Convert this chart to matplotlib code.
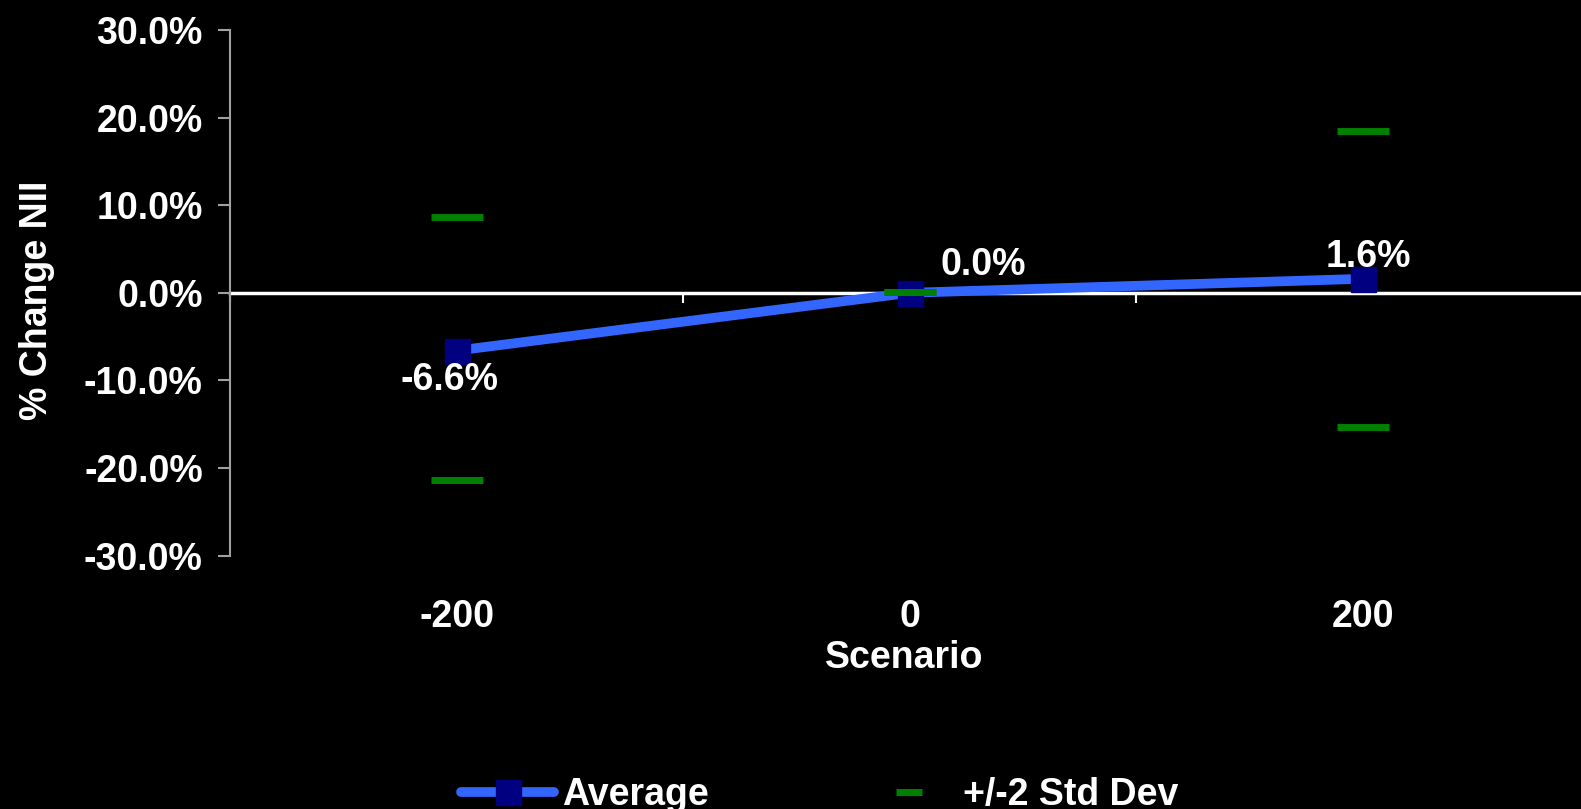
import matplotlib
matplotlib.use("Agg")
import matplotlib.pyplot as plt
from matplotlib.lines import Line2D
import numpy as np

# Chart data (percent change in net interest income by rate scenario)
scenarios = ["-200", "0", "200"]
average = [-6.6, 0.0, 1.6]
upper_2sd = [8.7, 0.1, 18.5]
lower_2sd = [-21.4, 0.1, -15.3]
y_ticks = [-30, -20, -10, 0, 10, 20, 30]

plt.rcParams["font.family"] = ["Liberation Sans", "DejaVu Sans"]
plt.rcParams["font.weight"] = "bold"

BLUE = "#3366FF"
NAVY = "#000080"
GREEN = "#008000"
AXIS_GREY = "#A0A0A0"
FS = 27

W, H, DPI = 1581, 809, 100
fig = plt.figure(figsize=(W / DPI, H / DPI), dpi=DPI, facecolor="black")
ax = fig.add_axes([230 / W, 1 - 555.6 / H, 1359.5 / W, 525.6 / H])
ax.set_facecolor("black")

x = np.arange(len(scenarios))
ax.set_xlim(-0.5, len(scenarios) - 0.5)
ax.set_ylim(y_ticks[0], y_ticks[-1])

# Axes styling
for side in ("top", "right"):
    ax.spines[side].set_visible(False)
ax.spines["left"].set_color(AXIS_GREY)
ax.spines["left"].set_linewidth(1.5)
ax.spines["bottom"].set_position(("data", 0))
ax.spines["bottom"].set_color("white")
ax.spines["bottom"].set_linewidth(2.5)
ax.spines["bottom"].set_zorder(1)

ax.set_yticks(y_ticks)
ax.set_yticklabels([f"{v:.1f}%" for v in y_ticks])
ax.tick_params(axis="y", direction="out", length=8.6, width=1.5, color=AXIS_GREY,
               pad=11, labelcolor="white", labelsize=FS)

# Tick marks sit between categories on the zero line
ax.set_xticks(np.arange(len(scenarios) + 1) - 0.5)
ax.set_xticklabels([])
ax.tick_params(axis="x", direction="out", length=7.5, width=1.5, color="white")

# Category labels placed below the plot area
for xi, lab in zip(x, scenarios):
    ax.annotate(lab, xy=(xi, 0), xycoords=("data", "axes fraction"),
                xytext=(0, -44), textcoords="offset points",
                ha="center", va="center", color="white", fontsize=FS,
                annotation_clip=False)
ax.annotate("Scenario", xy=(0.5, 0), xycoords="axes fraction",
            xytext=(-4, -74), textcoords="offset points",
            ha="center", va="center", color="white", fontsize=FS,
            annotation_clip=False)
fig.text(37 / W, 1 - 300 / H, "% Change NII", rotation=90, ha="center",
         va="center", color="white", fontsize=FS)

# Average line with square markers
ax.plot(x, average, color=BLUE, lw=7, marker="s", ms=18, mfc=NAVY, mec=NAVY,
        zorder=3, clip_on=False, solid_capstyle="butt")

# +/- 2 standard deviation dashes
ax.plot(x, upper_2sd, ls="none", marker="_", ms=38, mew=5, color=GREEN, zorder=4)
ax.plot(x, lower_2sd, ls="none", marker="_", ms=38, mew=5, color=GREEN, zorder=4)

# Value labels for the average series
label_offsets = [(-5, -21), (53, 20), (4, 16)]
for xi, v, (dx, dy) in zip(x, average, label_offsets):
    ax.annotate(f"{v:.1f}%", xy=(xi, v), xytext=(dx, dy), textcoords="offset points",
                ha="center", va="center", color="white", fontsize=FS, zorder=5)

# Legend
handles = [
    Line2D([], [], color=BLUE, lw=7, marker="s", ms=18, mfc=NAVY, mec=NAVY,
           solid_capstyle="round"),
    Line2D([], [], ls="none", marker="_", ms=19, mew=5, color=GREEN),
]
leg = fig.legend(handles, ["Average", "+/-2 Std Dev"], loc="center",
                 bbox_to_anchor=(820 / W, 1 - 795 / H), ncol=2, frameon=False,
                 fontsize=FS, labelcolor="white", handlelength=2.48,
                 handletextpad=0.21, columnspacing=4.1, borderpad=0)

fig.savefig("out.png", dpi=DPI, facecolor="black")
